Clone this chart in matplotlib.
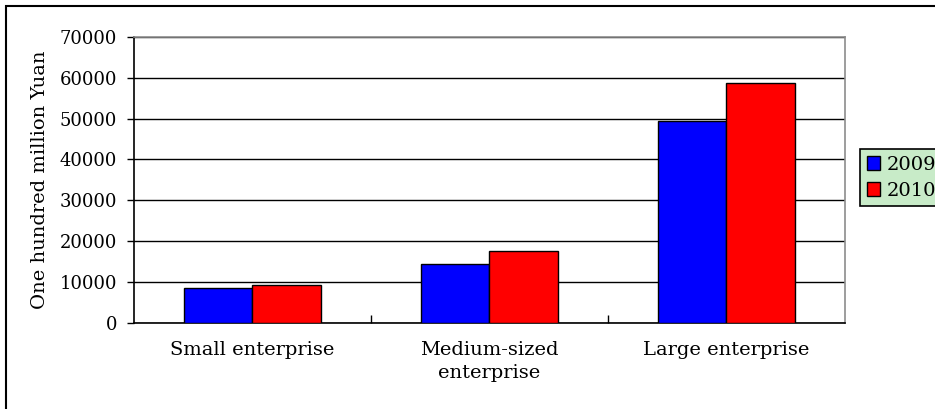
import matplotlib
matplotlib.use("Agg")
import matplotlib.pyplot as plt
from matplotlib.patches import Rectangle
import numpy as np

categories = ["Small enterprise", "Medium-sized\nenterprise", "Large enterprise"]
years = ["2009", "2010"]
v2009 = [8500, 14500, 49300]
v2010 = [9200, 17500, 58700]
colors = ["#0000FF", "#FF0000"]

plt.rcParams['font.family'] = ['DejaVu Serif']
fs = 13

fig = plt.figure(figsize=(9.35, 4.09), dpi=100)
ax = fig.add_axes([0.1433, 0.211, 0.7604, 0.6985])

x = np.arange(len(categories))
w = 0.2875
ax.bar(x - w / 2, v2009, w, color=colors[0], edgecolor='black', linewidth=1, label=years[0], zorder=3)
ax.bar(x + w / 2, v2010, w, color=colors[1], edgecolor='black', linewidth=1, label=years[1], zorder=3)

ax.set_xlim(-0.5, 2.5)
ax.set_ylim(0, 70000)
ax.set_yticks(np.arange(0, 70001, 10000))
ax.yaxis.grid(True, color='black', linewidth=1)
ax.set_axisbelow(True)
ax.tick_params(axis='y', direction='out', length=5, width=1, pad=7, labelsize=fs)

ax.set_xticks(x)
ax.set_xticklabels(categories, fontsize=14, linespacing=1.35)
ax.tick_params(axis='x', length=0, pad=13)
ax.set_xticks([0.5, 1.5], minor=True)
ax.tick_params(axis='x', which='minor', direction='in', length=6, width=1)

ax.spines['left'].set_color('black')
ax.spines['bottom'].set_color('black')
ax.spines['top'].set_color('#8c8c8c')
ax.spines['right'].set_color('#8c8c8c')
for s in ax.spines.values():
    s.set_linewidth(1.2)

ax.set_ylabel("One hundred million Yuan", fontsize=14)
ax.yaxis.set_label_coords(-0.12, 0.5)

leg = fig.legend(loc='upper left', bbox_to_anchor=(0.9198, 0.6357), borderaxespad=0,
                 fontsize=14, facecolor='#C8EBC8', edgecolor='black', framealpha=1,
                 fancybox=False, handlelength=0.7, handleheight=0.7,
                 handletextpad=0.3, labelspacing=0.4, borderpad=0.35)
leg.get_frame().set_linewidth(1.2)

# outer chart border
fig.patches.append(Rectangle((6 / 935, -0.1), 1.2, 1.1 - 6 / 409, transform=fig.transFigure,
                             fill=False, edgecolor='black', linewidth=1.5))

fig.savefig("out.png", dpi=100)
